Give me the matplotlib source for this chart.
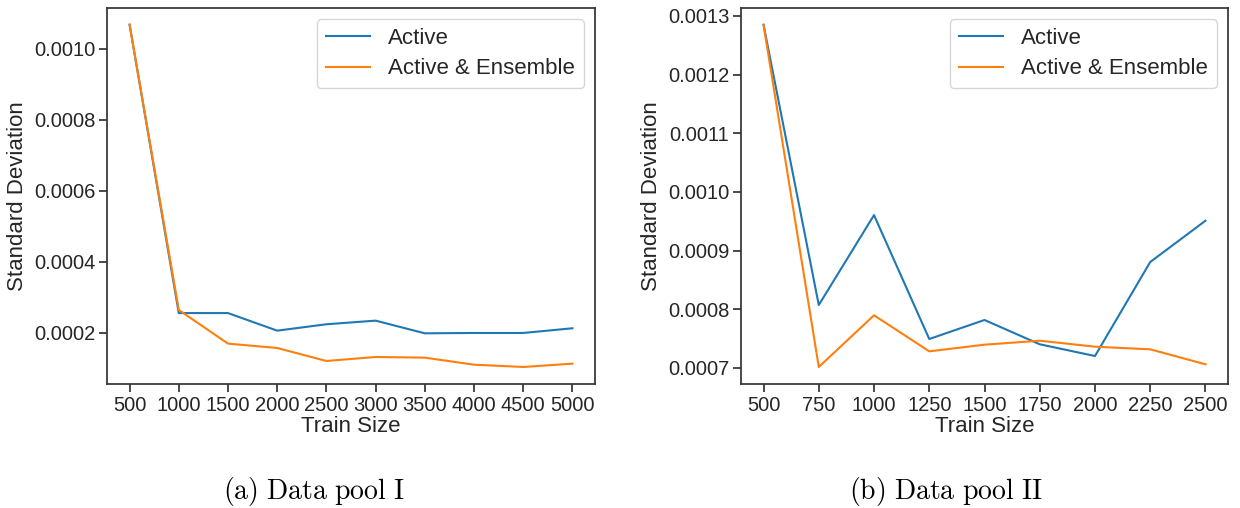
import matplotlib
matplotlib.use("Agg")
import matplotlib.pyplot as plt

plt.rcParams['font.family'] = ['Liberation Sans', 'DejaVu Sans']
plt.rcParams['mathtext.fontset'] = 'cm'

# Data pool I
train_size_1 = [500, 1000, 1500, 2000, 2500, 3000, 3500, 4000, 4500, 5000]
active_1 = [0.001068, 0.000256, 0.000256, 0.0002065, 0.0002245, 0.0002347,
            0.000199, 0.0002, 0.0002, 0.0002132]
ensemble_1 = [0.001068, 0.0002648, 0.00017, 0.0001577, 0.0001211, 0.0001324,
              0.0001305, 0.0001107, 0.0001042, 0.0001136]
yticks_1 = [0.0002, 0.0004, 0.0006, 0.0008, 0.0010]

# Data pool II
train_size_2 = [500, 750, 1000, 1250, 1500, 1750, 2000, 2250, 2500]
active_2 = [0.001285, 0.0008073, 0.0009606, 0.0007494, 0.0007818, 0.0007404,
            0.0007204, 0.0008806, 0.000951]
ensemble_2 = [0.001285, 0.0007017, 0.0007898, 0.0007284, 0.0007397, 0.0007465,
              0.0007363, 0.0007318, 0.0007063]
yticks_2 = [0.0007, 0.0008, 0.0009, 0.0010, 0.0011, 0.0012, 0.0013]

series_labels = ["Active", "Active & Ensemble"]
captions = [r"$\mathrm{(a)\ Data\ pool\ I}$", r"$\mathrm{(b)\ Data\ pool\ II}$"]

W, H = 1240, 508
fig = plt.figure(figsize=(W / 100, H / 100), dpi=100)

def rect(x0, y0, x1, y1):
    return [x0 / W, 1 - y1 / H, (x1 - x0) / W, (y1 - y0) / H]

ax1 = fig.add_axes(rect(107, 8, 595, 384))
ax2 = fig.add_axes(rect(741, 8, 1228, 384))

blue = '#1f77b4'
orange = '#ff7f0e'
edge = '#333333'
txt = '#262626'

for ax, x, a, e, yt, ylim, fmt in [
    (ax1, train_size_1, active_1, ensemble_1, yticks_1, (0.0000563, 0.001115), "{:.4f}"),
    (ax2, train_size_2, active_2, ensemble_2, yticks_2, (0.0006727, 0.0013136), "{:.4f}"),
]:
    ax.plot(x, a, color=blue, lw=1.5, label=series_labels[0])
    ax.plot(x, e, color=orange, lw=1.5, label=series_labels[1])
    ax.set_xticks(x)
    ax.set_xticklabels([str(v) for v in x])
    ax.set_yticks(yt)
    ax.set_yticklabels([fmt.format(v) for v in yt])
    ax.set_ylim(*ylim)
    pad = (x[-1] - x[0]) * 0.051
    ax.set_xlim(x[0] - pad, x[-1] + pad)
    ax.tick_params(axis='both', labelsize=14.5, colors=edge, labelcolor=txt,
                   length=6, width=1.25, direction='out', pad=2.5)
    for s in ax.spines.values():
        s.set_color(edge)
        s.set_linewidth(1.25)
    ax.set_xlabel("Train Size", fontsize=16, color=txt, labelpad=1)
    ax.set_ylabel("Standard Deviation", fontsize=16, color=txt, labelpad=4)
    leg = ax.legend(loc='upper right', fontsize=16, frameon=True, fancybox=True,
                    borderpad=0.4, handlelength=2.0, handletextpad=0.8,
                    labelspacing=0.42, borderaxespad=0.5)
    leg.get_frame().set_edgecolor('#cccccc')
    leg.get_frame().set_linewidth(1.0)
    for t in leg.get_texts():
        t.set_color(txt)

fig.text(314 / W, 1 - 492 / H, captions[0], fontsize=20, ha='center', va='center')
fig.text(946 / W, 1 - 492 / H, captions[1], fontsize=20, ha='center', va='center')

fig.savefig("out.png", dpi=100)
